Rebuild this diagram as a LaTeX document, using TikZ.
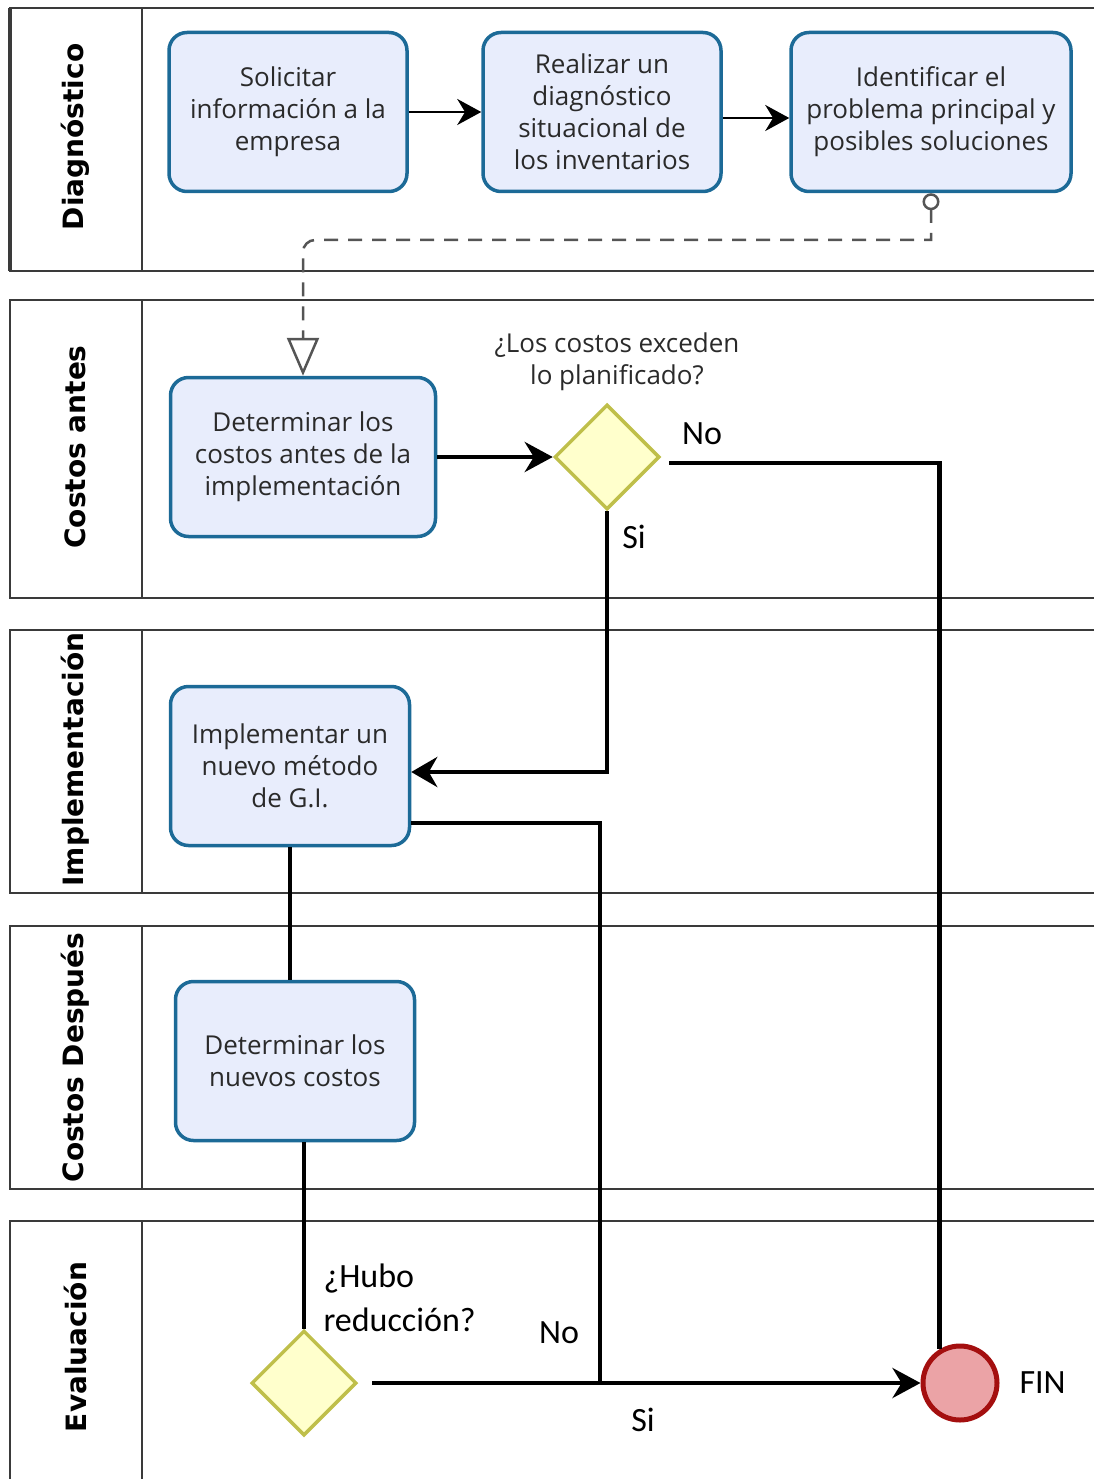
\documentclass[tikz,border=0pt]{standalone}
\usepackage{fontspec}
\setmainfont{Open Sans}
\newfontfamily\lanefont{DejaVu Sans}
\newfontfamily\labelfont{Carlito}
\usepackage{xcolor}
\usepackage{tikz}
\usetikzlibrary{arrows.meta,shapes.geometric,positioning}

\definecolor{taskfill}{HTML}{E8EDFC}
\definecolor{taskborder}{HTML}{1C6A97}
\definecolor{gatefill}{HTML}{FFFFCC}
\definecolor{gateborder}{HTML}{BFBF4A}
\definecolor{finfill}{HTML}{EBA3A6}
\definecolor{finborder}{HTML}{A40F0F}
\definecolor{laneline}{HTML}{3A3A3A}
\definecolor{textgray}{HTML}{2A2A2A}
\definecolor{dashgray}{HTML}{555555}

\begin{document}
\begin{tikzpicture}[x=1pt,y=-1pt,
	task/.style={draw=taskborder,line width=3.5pt,fill=taskfill,rounded corners=18pt,minimum height=159pt,align=center,font=\fontsize{26}{32}\selectfont,text=textgray,inner sep=0pt},
	gate/.style={diamond,draw=gateborder,line width=3.5pt,fill=gatefill,minimum width=105pt,minimum height=105pt,inner sep=0pt},
	lanetitle/.style={rotate=90,font=\lanefont\bfseries\fontsize{28}{34}\selectfont},
	lbl/.style={font=\labelfont\fontsize{34}{44}\selectfont},
	flow/.style={line width=4.5pt},
	thinflow/.style={line width=2.5pt},
	lane/.style={draw=laneline,line width=2.2pt}]
	\useasboundingbox (0,0) rectangle (1094,1479);
	% lanes
	\draw[lane] (1094,8) -- (10,8) -- (10,271) -- (1094,271);
	\draw[lane,line width=3.5pt] (10,8) -- (10,271);
	\draw[lane] (142,8) -- (142,271);
	\node[lanetitle] (lanediag) at (75,137) {Diagnóstico};
	\draw[lane] (1094,300) -- (10,300) -- (10,598) -- (1094,598);
	\draw[lane] (142,300) -- (142,598);
	\node[lanetitle] (laneantes) at (75,447) {Costos antes};
	\draw[lane] (1094,630) -- (10,630) -- (10,893) -- (1094,893);
	\draw[lane] (142,630) -- (142,893);
	\begin{scope}
		\clip (10,630) rectangle (142,893);
		\node[lanetitle,anchor=west] (laneimpl) at (75,890) {Implementación};
	\end{scope}
	\draw[lane] (1094,926) -- (10,926) -- (10,1189) -- (1094,1189);
	\draw[lane] (142,926) -- (142,1189);
	\begin{scope}
		\clip (10,926) rectangle (142,1189);
		\node[lanetitle,anchor=west] (lanedespues) at (75,1186) {Costos Después};
	\end{scope}
	\draw[lane] (1094,1221) -- (10,1221) -- (10,1479);
	\draw[lane] (142,1221) -- (142,1479);
	\node[lanetitle] (laneeval) at (75,1347) {Evaluación};

	% tasks and gateways
	\node[task,minimum width=238pt] (solicitar) at (288,112) {Solicitar\\información a la\\empresa};
	\node[task,minimum width=238pt] (diagnostico) at (602,112) {Realizar un\\diagnóstico\\situacional de\\los inventarios};
	\node[task,minimum width=280pt] (identificar) at (931,112) {Identificar el\\problema principal y\\posibles soluciones};
	\node[task,minimum width=265pt] (costosantes) at (303,457) {Determinar los\\costos antes de la\\implementación};
	\node[gate] (exceden) at (607,457) {};
	\node[task,minimum width=239pt] (implementar) at (290,766) {Implementar un\\nuevo método\\de G.I.};
	\node[task,minimum width=239pt] (nuevoscostos) at (295,1061) {Determinar los\\nuevos costos};
	\node[gate] (reduccion) at (304,1383) {};
	\node[circle,draw=finborder,line width=5pt,fill=finfill,minimum size=74pt,inner sep=0pt] (fin) at (960,1383) {};

	% labels
	\node[align=center,font=\fontsize{26}{32}\selectfont,text=textgray] (preguntaexc) at (617,362) {¿Los costos exceden\\lo planificado?};
	\node[lbl] (noexc) at (702,434) {No};
	\node[lbl] (siexc) at (634,537) {Si};
	\node[lbl,align=left,anchor=west] (preguntared) at (320,1298) {¿Hubo\\reducción?};
	\node[lbl] (nored) at (559,1333) {No};
	\node[lbl] (sired) at (643,1420) {Si};
	\node[lbl,anchor=west] (finlabel) at (1016,1383) {FIN};

	% connectors
	\coordinate (dashcorner) at (931,240);
	\coordinate (dashturn) at (303,240);
	\coordinate (nojoin) at (600,1383);
	\draw[thinflow,-{Stealth[length=24pt,width=26pt]}] (solicitar) -- (diagnostico);
	\draw[thinflow,-{Stealth[length=24pt,width=26pt]}] ([yshift=-6pt]diagnostico.east) -- ([yshift=-6pt]identificar.west);
	\draw[thinflow,draw=dashgray,dash pattern=on 14pt off 10pt,{Circle[open,length=17pt,width=17pt]}-{Triangle[open,length=38pt,width=32pt]}] (identificar.south) -- (dashcorner) [rounded corners=12pt] -- (dashturn) -- (costosantes.north);
	\draw[flow,-{Stealth[length=28pt,width=30pt]}] (costosantes) -- (exceden);
	\draw[flow] ([xshift=8pt,yshift=-6pt]exceden.east) -| (fin.121);
	\draw[flow,-{Stealth[length=26pt,width=30pt]}] (exceden.south) |- ([yshift=-6pt]implementar.east);
	\draw[flow] (implementar.south) -- (implementar.south |- nuevoscostos.north);
	\draw[flow] (reduccion.north |- nuevoscostos.south) -- (reduccion.north);
	\draw[flow,-{Stealth[length=28pt,width=30pt]}] ([xshift=14pt]reduccion.east) -- (fin.west);
	\draw[flow] ([yshift=-57pt]implementar.east) -| (nojoin);
\end{tikzpicture}
\end{document}
